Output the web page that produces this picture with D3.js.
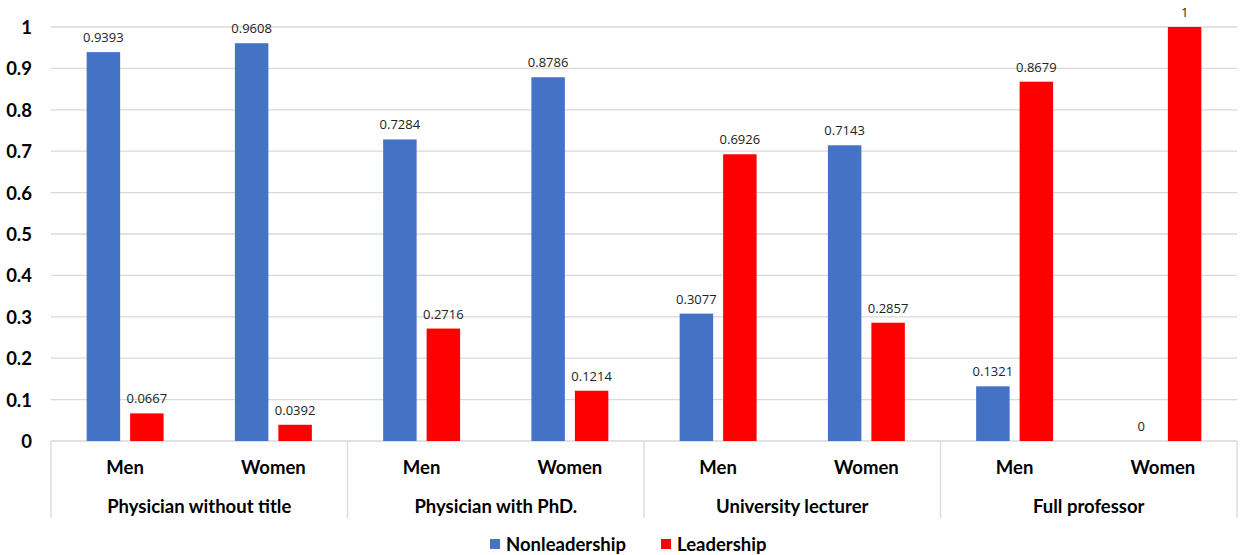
<!DOCTYPE html>
<html>
<head>
<meta charset="utf-8">
<script src="https://cdn.jsdelivr.net/npm/d3@7"></script>
<style>
  html, body { margin: 0; padding: 0; background: #fff; }
  svg { display: block; font-family: Lato, "Open Sans", sans-serif; }
</style>
</head>
<body>
<svg id="chart" width="1250" height="555"></svg>
<script>
// Positions and their gender split
const groups = ["Physician without title", "Physician with PhD.", "University lecturer", "Full professor"];
const genders = ["Men", "Women"];
const seriesNames = ["Nonleadership", "Leadership"];
const seriesColors = ["#4472C4", "#FF0000"];

// Shares per group/gender, in order: Men, Women of each group
const nonleadership = [0.9393, 0.9608, 0.7284, 0.8786, 0.3077, 0.7143, 0.1321, 0];
const leadership    = [0.0667, 0.0392, 0.2716, 0.1214, 0.6926, 0.2857, 0.8679, 1];

const yTicks = [0, 0.1, 0.2, 0.3, 0.4, 0.5, 0.6, 0.7, 0.8, 0.9, 1];
const yTickLabels = ["0", "0.1", "0.2", "0.3", "0.4", "0.5", "0.6", "0.7", "0.8", "0.9", "1"];

(function () {
  const svg = d3.select("#chart");
  const plotLeft = 51, plotRight = 1237, plotTop = 27, plotBottom = 441;

  const slots = [];
  groups.forEach(g => genders.forEach(s => slots.push(g + "|" + s)));
  const rows = slots.map((k, i) => ({ key: k, group: k.split("|")[0], gender: k.split("|")[1],
    values: [nonleadership[i], leadership[i]] }));

  const xGroup = d3.scaleBand().domain(groups).range([plotLeft, plotRight]);
  const xSlot = d3.scaleBand().domain(slots).range([plotLeft, plotRight]);
  const xSeries = d3.scaleBand().domain(seriesNames).range([0, xSlot.bandwidth()])
    .paddingInner(0.23).paddingOuter(0.82);
  const y = d3.scaleLinear().domain([0, 1]).range([plotBottom, plotTop]);

  // Horizontal gridlines
  svg.append("g").selectAll("line").data(yTicks.slice(1)).join("line")
    .attr("x1", plotLeft).attr("x2", plotRight)
    .attr("y1", d => y(d)).attr("y2", d => y(d))
    .attr("stroke", "#d9d9d9").attr("stroke-width", 1.3);

  // Y axis labels
  const yAxis = d3.axisLeft(y).tickValues(yTicks).tickFormat((d, i) => yTickLabels[i]).tickSize(0).tickPadding(0);
  const yg = svg.append("g").attr("transform", `translate(${plotLeft - 19},0)`).call(yAxis);
  yg.select(".domain").remove();
  yg.selectAll("text").attr("font-family", "Lato, sans-serif").attr("font-size", 18.5)
    .attr("font-weight", 700).attr("fill", "#000").attr("dy", "0.35em");

  // Category axis: baseline and group separators
  svg.append("line").attr("x1", plotLeft).attr("x2", plotRight).attr("y1", plotBottom).attr("y2", plotBottom)
    .attr("stroke", "#d9d9d9").attr("stroke-width", 1.3);
  const seps = groups.map(g => xGroup(g)).concat([plotRight]);
  svg.append("g").selectAll("line").data(seps).join("line")
    .attr("x1", d => d).attr("x2", d => d).attr("y1", plotBottom).attr("y2", 518)
    .attr("stroke", "#d9d9d9").attr("stroke-width", 1.3);

  // Bars
  const slotG = svg.append("g").selectAll("g").data(rows).join("g")
    .attr("transform", d => `translate(${xSlot(d.key)},0)`);
  slotG.selectAll("rect").data(d => d.values.map((v, i) => ({ v, i }))).join("rect")
    .attr("x", d => xSeries(seriesNames[d.i]))
    .attr("width", xSeries.bandwidth())
    .attr("y", d => y(d.v))
    .attr("height", d => plotBottom - y(d.v))
    .attr("fill", d => seriesColors[d.i]);

  // Value labels
  slotG.selectAll("text").data(d => d.values.map((v, i) => ({ v, i }))).join("text")
    .attr("x", d => xSeries(seriesNames[d.i]) + xSeries.bandwidth() / 2)
    .attr("y", d => y(d.v) - 10)
    .attr("text-anchor", "middle")
    .attr("font-size", 13).attr("fill", "#222")
    .attr("font-family", "'Open Sans', sans-serif")
    .text(d => String(d.v));

  // Gender labels
  svg.append("g").selectAll("text").data(rows).join("text")
    .attr("x", d => xSlot(d.key) + xSlot.bandwidth() / 2)
    .attr("y", 474)
    .attr("text-anchor", "middle").attr("font-size", 18.5).attr("font-weight", 700)
    .text(d => d.gender);

  // Group labels
  svg.append("g").selectAll("text").data(groups).join("text")
    .attr("x", d => xGroup(d) + xGroup.bandwidth() / 2)
    .attr("y", 513)
    .attr("text-anchor", "middle").attr("font-size", 18.5).attr("font-weight", 700)
    .text(d => d);

  // Legend
  const legendX = [490, 661];
  const lg = svg.append("g").selectAll("g").data(seriesNames).join("g")
    .attr("transform", (d, i) => `translate(${legendX[i]},539)`);
  lg.append("rect").attr("width", 10).attr("height", 10).attr("fill", (d, i) => seriesColors[i]);
  lg.append("text").attr("x", 16).attr("y", 11.5).attr("font-size", 18.5).attr("font-weight", 700)
    .text(d => d);
})();
</script>
</body>
</html>
